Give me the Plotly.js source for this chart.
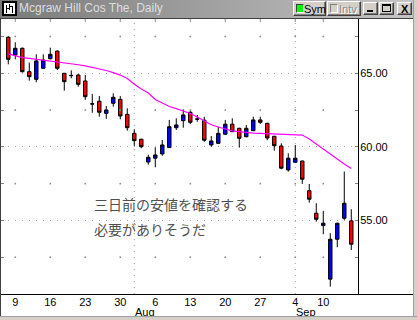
<!DOCTYPE html>
<html>
<head>
<meta charset="utf-8">
<script src="https://cdn.plot.ly/plotly-3.0.1.min.js"></script>
<style>
html,body{margin:0;padding:0;background:#fff;}
#wrap{position:relative;width:417px;height:320px;overflow:hidden;background:#fff;font-family:"Liberation Sans",Arial,sans-serif;}
#tb{position:absolute;left:0;top:0;width:417px;height:18px;background:linear-gradient(to right,#7a7a7a,#c6c6c6);}
#chart{position:absolute;left:0;top:0;width:417px;height:320px;}
.ln{position:absolute;}
.btn{position:absolute;box-sizing:border-box;background:#d4d0c8;border:1px solid;border-color:#fff #404040 #404040 #fff;box-shadow:inset -1px -1px #808080;font-size:11px;line-height:12px;color:#000;}
</style>
</head>
<body>
<div id="wrap">
  <div id="tb"></div>
  <div id="chart"></div>
  <!-- window frame lines -->
  <div class="ln" style="left:0;top:18px;width:413px;height:1px;background:#404040"></div>
  <div class="ln" style="left:0;top:18px;width:1px;height:299px;background:#404040"></div>
  <div class="ln" style="left:358px;top:294px;width:55px;height:1px;background:#000"></div>
  <div class="ln" style="left:413px;top:0;width:4px;height:320px;background:#d4d0c8;border-left:1px solid #a0a0a0;box-sizing:border-box"></div>
  <div class="ln" style="left:0;top:316px;width:417px;height:4px;background:#d4d0c8;border-top:1px solid #a0a0a0;box-sizing:border-box"></div>
  <!-- icon -->
  <div class="ln" style="left:2px;top:1px;width:15px;height:15px;background:#000;">
    <div class="ln" style="left:2px;top:2px;width:11px;height:11px;background:#fff;"></div>
    <div class="ln" style="left:4px;top:4px;width:1px;height:8px;background:#000;"></div>
    <div class="ln" style="left:7px;top:3px;width:1px;height:6px;background:#000;"></div>
    <div class="ln" style="left:10px;top:5px;width:1px;height:7px;background:#000;"></div>
    <div class="ln" style="left:5px;top:7px;width:2px;height:1px;background:#000;"></div>
    <div class="ln" style="left:8px;top:5px;width:2px;height:1px;background:#000;"></div>
  </div>
  <!-- buttons -->
  <div class="btn" style="left:293px;top:1px;width:33px;height:15px;">
    <div class="ln" style="left:2px;top:2px;width:6px;height:7px;background:#00ff00;border:1px solid;border-color:#404040 #fff #fff #404040"></div>
    <span class="ln" style="left:10px;top:1px;">Sym</span>
  </div>
  <div class="btn" style="left:327px;top:1px;width:34px;height:15px;">
    <div class="ln" style="left:2px;top:2px;width:6px;height:7px;background:#d4d0c8;border:1px solid;border-color:#808080 #fff #fff #808080"></div>
    <span class="ln" style="left:11px;top:1px;color:#888;text-shadow:1px 1px #fff;">Intv</span>
  </div>
  <div class="btn" style="left:363px;top:2px;width:15px;height:13px;">
    <div class="ln" style="left:3px;top:7px;width:6px;height:2px;background:#000"></div>
  </div>
  <div class="btn" style="left:379px;top:2px;width:15px;height:13px;">
    <div class="ln" style="left:2px;top:1px;width:9px;height:8px;box-sizing:border-box;border:1px solid #000;border-top-width:2px"></div>
  </div>
  <div class="btn" style="left:397px;top:2px;width:15px;height:13px;">
    <span class="ln" style="left:3px;top:0px;font-weight:bold;font-size:11px;">X</span>
  </div>
</div>
<script>
// ---- data ----
const dates = ['2001-07-06','2001-07-09','2001-07-10','2001-07-11','2001-07-12','2001-07-13',
 '2001-07-16','2001-07-17','2001-07-18','2001-07-19','2001-07-20',
 '2001-07-23','2001-07-24','2001-07-25','2001-07-26','2001-07-27',
 '2001-07-30','2001-07-31','2001-08-01','2001-08-02','2001-08-03',
 '2001-08-06','2001-08-07','2001-08-08','2001-08-09','2001-08-10',
 '2001-08-13','2001-08-14','2001-08-15','2001-08-16','2001-08-17',
 '2001-08-20','2001-08-21','2001-08-22','2001-08-23','2001-08-24',
 '2001-08-27','2001-08-28','2001-08-29','2001-08-30','2001-08-31',
 '2001-09-04','2001-09-05','2001-09-06','2001-09-07','2001-09-10',
 '2001-09-17','2001-09-18','2001-09-19','2001-09-20'];
const openP  = [67.45,66.24,66.70,65.11,64.59,65.34,65.99,66.51,65.00,64.86,64.88,64.48,62.93,63.10,62.28,62.96,63.23,62.21,60.92,60.52,58.97,59.23,59.52,59.95,61.30,61.78,62.35,61.90,61.81,60.13,60.24,60.86,61.54,61.26,60.69,61.10,61.83,61.60,60.72,60.06,58.43,58.95,59.04,57.02,55.49,54.65,51.01,53.72,55.15,54.97];
const highP  = [67.53,67.11,66.75,65.72,66.29,66.29,66.74,66.55,65.02,65.20,64.95,64.88,63.60,63.46,62.78,63.64,63.46,62.62,61.20,60.55,59.47,59.97,60.47,61.83,61.94,62.55,62.44,62.17,62.05,60.74,61.37,61.83,61.94,61.30,61.49,62.05,62.05,61.64,60.74,60.24,59.57,60.13,59.06,57.48,56.17,55.65,54.13,54.85,58.32,55.76];
const lowP   = [65.61,65.95,65.05,64.50,64.39,65.30,65.95,65.22,63.82,64.66,64.09,63.19,62.32,62.05,61.90,62.73,61.87,61.10,60.06,59.90,58.79,58.61,59.40,59.93,61.15,61.30,61.54,61.71,60.35,60.01,60.22,60.81,61.01,59.95,60.65,61.08,61.56,60.45,59.74,58.48,58.32,58.93,57.48,56.21,54.92,54.06,50.50,53.18,55.03,52.99];
const closeP = [65.95,66.70,65.11,64.77,65.84,65.90,66.29,65.34,64.43,64.84,64.25,63.41,62.91,62.35,62.51,63.37,62.10,61.30,60.42,60.01,59.29,59.45,60.13,61.37,61.49,62.17,61.67,61.88,60.45,60.40,60.92,61.54,61.03,60.58,61.26,61.83,61.67,60.60,60.08,58.55,59.23,59.23,57.80,56.44,55.08,54.81,53.72,54.81,56.17,53.38];
const movingAvg = [66.32,66.19,66.07,66.01,65.95,65.92,65.87,65.78,65.71,65.65,65.58,65.50,65.41,65.31,65.19,65.05,64.88,64.65,64.25,63.93,63.66,63.22,62.98,62.74,62.60,62.44,62.27,62.03,61.76,61.50,61.35,61.22,61.09,61.03,60.97,60.93,60.91,60.90,60.88,60.86,60.84,60.82,60.80,60.54,60.20,59.82,59.48,59.14,58.84,58.53];
const weekTickDates = ['2001-07-09','2001-07-16','2001-07-23','2001-07-30','2001-08-06','2001-08-13','2001-08-20','2001-08-27','2001-09-04','2001-09-10'];
const weekTickLabels = ['9','16','23','30','6','13','20','27','4','10'];
const monthStartDates = ['2001-08-01','2001-09-04'];
const monthLabels = ['Aug','Sep'];
const priceTicks = [55, 60, 65];
const minorLevels = [52.5, 57.5, 62.5, 67.5];
const chartTitle = 'Mcgraw Hill Cos The, Daily';
const noteLines = ['三日前の安値を確認する', '必要がありそうだ'];
const notePrices = [56.1, 54.42];
const noteDate = '2001-07-24';

// ---- build ----
const idx = dates.map((d, i) => i);
const pos = d => dates.indexOf(d);
const weekIdx = weekTickDates.map(pos);
const monthIdx = monthStartDates.map(pos);

const dotX = [], dotY = [];
minorLevels.forEach(lv => weekIdx.forEach(w => { dotX.push(w); dotY.push(lv); }));

const traces = [
  {type:'scatter', mode:'markers', x:dotX, y:dotY, hoverinfo:'skip', showlegend:false,
   marker:{symbol:'square', size:1.6, color:'#8c8c8c', line:{width:0}}},
  {type:'scatter', mode:'lines', x:idx, y:movingAvg, hoverinfo:'skip', showlegend:false,
   line:{color:'#ff00ff', width:1.2}},
  {type:'candlestick', x:idx, open:openP, high:highP, low:lowP, close:closeP,
   increasing:{line:{color:'#000', width:1}, fillcolor:'#0000ff'},
   decreasing:{line:{color:'#000', width:1}, fillcolor:'#ff0000'},
   whiskerwidth:0, hoverinfo:'skip', showlegend:false}
];

const shapes = [];
monthIdx.forEach(m => shapes.push({type:'line', xref:'x', yref:'paper', x0:m, x1:m, y0:0, y1:1,
  line:{color:'#9a9a9a', width:1, dash:'1px,5px'}, layer:'below'}));
weekIdx.forEach(w => shapes.push({type:'line', xref:'x', yref:'paper', x0:w, x1:w, y0:1, y1:1-3/275,
  line:{color:'#8c8c8c', width:1}, layer:'below'}));

const annotations = [];
monthIdx.forEach((m, k) => annotations.push({x:m, xref:'x', y:0, yref:'paper', text:monthLabels[k],
  showarrow:false, xanchor:'left', yanchor:'middle', xshift:-1, yshift:-18,
  font:{family:'Liberation Sans, Arial, sans-serif', size:11, color:'#000'}}));
noteLines.forEach((t, k) => annotations.push({x:pos(noteDate), xref:'x', y:notePrices[k], yref:'y', text:t,
  showarrow:false, xanchor:'left', yanchor:'middle',
  font:{family:'Noto Sans CJK JP', size:14, color:'#505050'}}));

const layout = {
  width:417, height:320,
  margin:{l:1, r:59, t:19, b:26, pad:0},
  paper_bgcolor:'rgba(0,0,0,0)', plot_bgcolor:'#ffffff',
  showlegend:false, boxgap:0.3,
  title:{text:chartTitle, x:19/417, xref:'container', xanchor:'left', y:1-8/320, yref:'container', yanchor:'middle',
    font:{family:'Liberation Sans, Arial, sans-serif', size:12, color:'#dedede'}},
  xaxis:{range:[-1.04, 49.96], tickmode:'array', tickvals:weekIdx, ticktext:weekTickLabels,
    showgrid:false, zeroline:false, showline:true, linecolor:'#000', linewidth:1, ticks:'',
    ticklabelstandoff:-2,
    tickfont:{family:'Liberation Sans, Arial, sans-serif', size:11, color:'#000'},
    rangeslider:{visible:false}, fixedrange:true},
  yaxis:{side:'right', range:[50.0, 68.69], tickmode:'array', tickvals:priceTicks, tickformat:'.2f',
    ticks:'inside', ticklen:3, tickcolor:'#808080', mirror:'ticks',
    minor:{dtick:2.5, tick0:0, ticks:'inside', ticklen:3, tickcolor:'#808080', showgrid:false},
    showline:true, linecolor:'#000', linewidth:1, ticklabelstandoff:-1,
    showgrid:true, gridcolor:'#a0a0a0', gridwidth:1, griddash:'1px,6px', zeroline:false,
    tickfont:{family:'Liberation Sans, Arial, sans-serif', size:11, color:'#000'}, fixedrange:true},
  shapes:shapes, annotations:annotations
};

Plotly.newPlot('chart', traces, layout, {displayModeBar:false, staticPlot:true});
</script>
</body>
</html>
